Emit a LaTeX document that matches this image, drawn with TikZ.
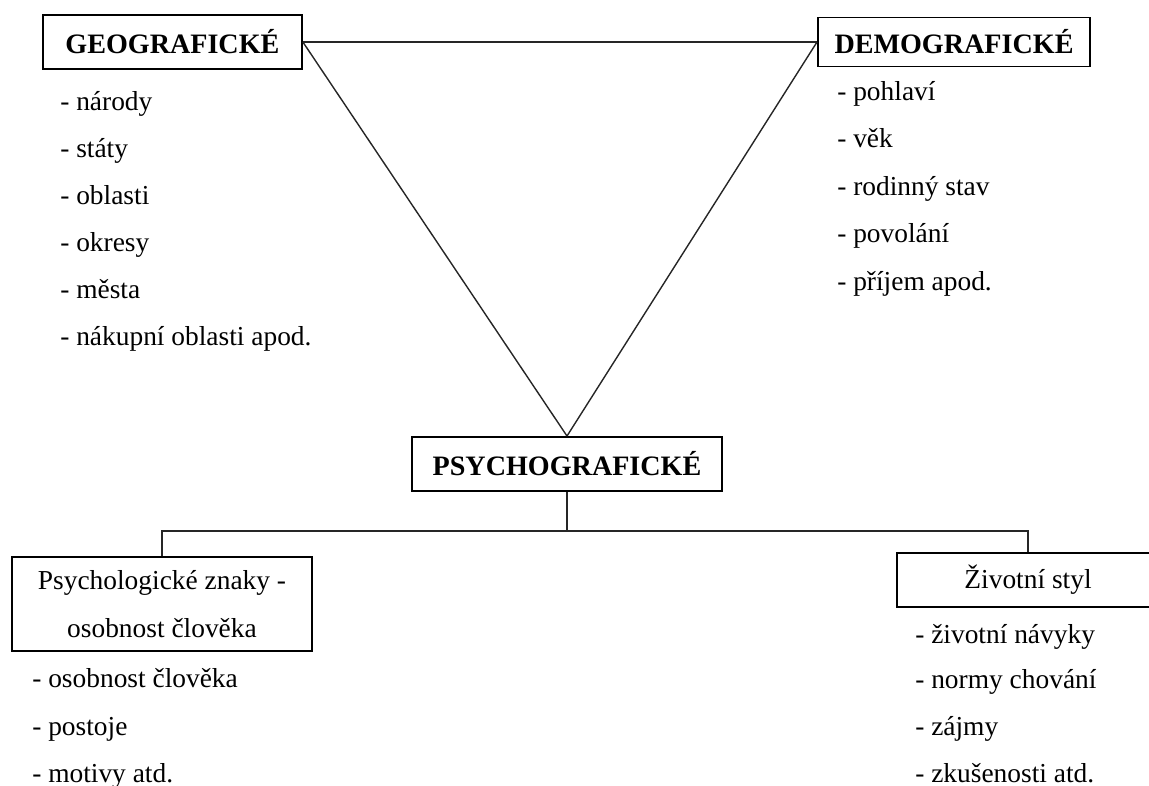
\documentclass[tikz,border=0pt]{standalone}
\usepackage{fontspec}
\setmainfont{Liberation Serif}
\usetikzlibrary{positioning, calc}

\begin{document}
\begin{tikzpicture}[
    catbox/.style={rectangle, draw, line width=1.4pt, inner sep=2pt, align=center, font=\fontsize{20}{24}\selectfont\bfseries, minimum height=1.35cm},
    subbox/.style={rectangle, draw, line width=1.4pt, inner sep=2pt, align=center, font=\fontsize{19.5}{34}\selectfont},
    item/.style={anchor=base west, inner sep=0pt, font=\fontsize{19.5}{24}\selectfont},
    link/.style={line width=1pt, color=black!85}
]
    \useasboundingbox (0,0) rectangle (28.725,-19.625);

    % --- Segment Headers ---
    \node[catbox, minimum width=6.475cm] (h_geo) at (4.31,-1.05) {GEOGRAFICKÉ};
    \node[catbox, minimum width=6.8cm, minimum height=1.225cm] (h_demo) at (23.85,-1.05) {DEMOGRAFICKÉ};
    \node[catbox, minimum width=7.75cm] (h_psycho) at (14.175,-11.6) {PSYCHOGRAFICKÉ};

    % --- Psychographic Branches ---
    \node[subbox, minimum width=7.5cm, minimum height=2.35cm] (s_znaky) at (4.05,-15.1) {Psychologické znaky -\\osobnost člověka};
    \node[subbox, minimum width=6.55cm, minimum height=1.35cm] (s_styl) at (25.7,-14.5) {Životní styl};

    % --- Geographic Items ---
    \node[item] (g1) at (1.5,-2.75) {- národy};
    \node[item] (g2) at (1.5,-3.925) {- státy};
    \node[item] (g3) at (1.5,-5.1) {- oblasti};
    \node[item] (g4) at (1.5,-6.275) {- okresy};
    \node[item] (g5) at (1.5,-7.45) {- města};
    \node[item] (g6) at (1.5,-8.625) {- nákupní oblasti apod.};

    % --- Demographic Items ---
    \node[item] (d1) at (20.925,-2.5) {- pohlaví};
    \node[item] (d2) at (20.925,-3.6875) {- věk};
    \node[item] (d3) at (20.925,-4.875) {- rodinný stav};
    \node[item] (d4) at (20.925,-6.0625) {- povolání};
    \node[item] (d5) at (20.925,-7.25) {- příjem apod.};

    % --- Personality Items ---
    \node[item] (p1) at (0.8,-17.175) {- osobnost člověka};
    \node[item] (p2) at (0.8,-18.375) {- postoje};
    \node[item] (p3) at (0.8,-19.55) {- motivy atd.};

    % --- Lifestyle Items ---
    \node[item] (l1) at (22.875,-16.075) {- životní návyky};
    \node[item] (l2) at (22.875,-17.2) {- normy chování};
    \node[item] (l3) at (22.875,-18.375) {- zájmy};
    \node[item] (l4) at (22.875,-19.55) {- zkušenosti atd.};

    % --- Triangle ---
    \draw[link] (h_geo.east) -- (h_demo.west);
    \draw[link] (h_geo.east) -- (h_psycho.north);
    \draw[link] (h_demo.west) -- (h_psycho.north);

    % --- Tree below Psychographic ---
    \coordinate (fork) at ($(h_psycho.south)+(0,-0.975)$);
    \draw[link] (h_psycho.south) -- (fork);
    \draw[link] (s_znaky.north) |- (fork) -| (s_styl.north);

\end{tikzpicture}
\end{document}
